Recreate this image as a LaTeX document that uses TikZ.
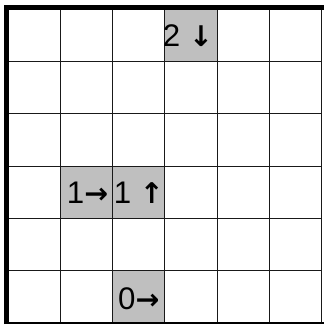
\documentclass[tikz,border=0pt]{standalone}
\usepackage{fontspec}
\setmainfont{Liberation Sans}
\newfontfamily\arrowfont{DejaVu Sans}
\usetikzlibrary{positioning}

\tikzset{
  marker/.style={font=\fontsize{17}{19}\selectfont, inner sep=0pt, anchor=center},
  shade/.style={fill=black!25}
}
\newcommand{\arr}[1]{{\arrowfont\bfseries\fontsize{15.5}{19}\selectfont#1}}

\begin{document}
\begin{tikzpicture}
  \useasboundingbox (-0.153,-0.057) rectangle (6.034,6.176);

  % shaded cells: (col,row) counted from the bottom left
  \foreach \x/\y in {3/5, 1/2, 2/2, 2/0}
    \fill[shade] (\x,\y) rectangle ++(1,1);

  % grid
  \draw[black!90, line width=0.6pt] (0,0) grid (6,6);

  % walls
  \draw[line width=2.7pt] (-0.03,-0.02) -- (-0.03,6.035) -- (6.1,6.035);
  \draw[line width=1.1pt] (0,0) -- (6.1,0);

  % labels
  \node[marker] (top)   at (3.44,5.5) {2 \arr{↓}};
  \node[marker] (left)  at (1.52,2.49) {1\arr{→}};
  \node[marker] (right) at (2.5,2.49) {1 \arr{↑}};
  \node[marker] (start) at (2.5,0.46) {0\arr{→}};
\end{tikzpicture}
\end{document}
